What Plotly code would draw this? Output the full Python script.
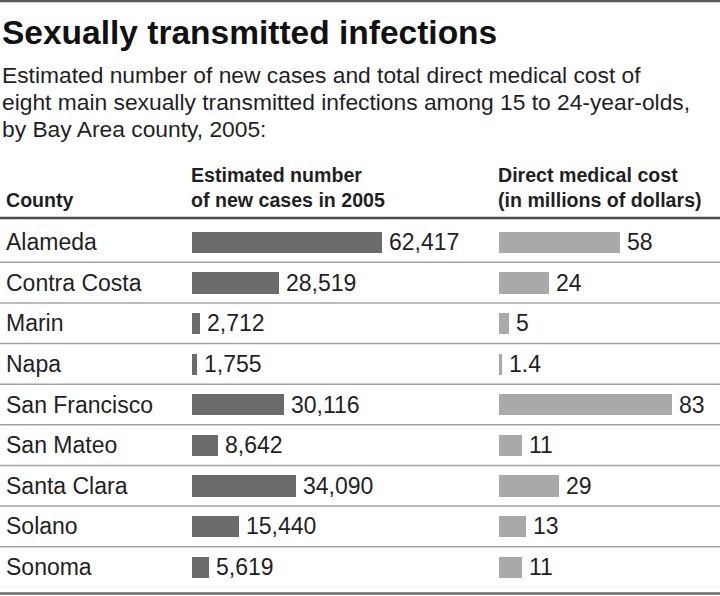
import plotly.graph_objects as go

# ---- data ----
counties = ["Alameda", "Contra Costa", "Marin", "Napa", "San Francisco",
            "San Mateo", "Santa Clara", "Solano", "Sonoma"]
new_cases = [62417, 28519, 2712, 1755, 30116, 8642, 34090, 15440, 5619]
medical_cost = [58, 24, 5, 1.4, 83, 11, 29, 13, 11]
cost_labels = ["58", "24", "5", "1.4", "83", "11", "29", "13", "11"]

title = "Sexually transmitted infections"
subtitle_lines = [
    "Estimated number of new cases and total direct medical cost of",
    "eight main sexually transmitted infections among 15 to 24-year-olds,",
    "by Bay Area county, 2005:",
]
header_county = "County"
header_cases = ["Estimated number", "of new cases in 2005"]
header_cost = ["Direct medical cost", "(in millions of dollars)"]

# ---- layout helpers ----
W, H = 720, 596
def px(x):
    return x / W
def py(y):
    return 1 - y / H

FONT = "Liberation Sans, Arial, Helvetica, sans-serif"
TXT = "#1f1f1f"
CASE_COLOR = "#6b6b6b"
COST_COLOR = "#a9a9a9"

fig = go.Figure()
fig.add_trace(go.Bar(
    y=counties, x=new_cases, orientation="h", xaxis="x", yaxis="y",
    marker=dict(color=CASE_COLOR, line=dict(width=0)), width=0.52,
    hoverinfo="skip", showlegend=False))
fig.add_trace(go.Bar(
    y=counties, x=medical_cost, orientation="h", xaxis="x2", yaxis="y",
    marker=dict(color=COST_COLOR, line=dict(width=0)), width=0.52,
    hoverinfo="skip", showlegend=False))

cases_per_px = 62417 / 190.0
cost_per_px = 1 / 2.085
x1_left, x1_right = 192, 470
x2_left, x2_right = 499, 720

annotations = []
# title
annotations.append(dict(text=title, x=px(0), y=py(32.5), xref="paper", yref="paper",
                        xanchor="left", yanchor="middle", showarrow=False,
                        font=dict(family=FONT, size=33.5, color="#111111", weight="bold")))
# subtitle
for line, yc in zip(subtitle_lines, [75, 102, 129]):
    annotations.append(dict(text=line, x=px(0), y=py(yc), xref="paper", yref="paper",
                            xanchor="left", yanchor="middle", showarrow=False,
                            font=dict(family=FONT, size=22.8, color=TXT)))
# headers
hdr_font = dict(family=FONT, size=19.6, color=TXT, weight="bold")
annotations.append(dict(text=header_county, x=px(4), y=py(199.5), xref="paper", yref="paper",
                        xanchor="left", yanchor="middle", showarrow=False, font=hdr_font))
for line, yc in zip(header_cases, [175, 199.5]):
    annotations.append(dict(text=line, x=px(189), y=py(yc), xref="paper", yref="paper",
                            xanchor="left", yanchor="middle", showarrow=False, font=hdr_font))
for line, yc in zip(header_cost, [175, 199.5]):
    annotations.append(dict(text=line, x=px(496), y=py(yc), xref="paper", yref="paper",
                            xanchor="left", yanchor="middle", showarrow=False, font=hdr_font))
# row labels and value labels
row_font = dict(family=FONT, size=23, color=TXT)
for c, v, cv, cl in zip(counties, new_cases, medical_cost, cost_labels):
    annotations.append(dict(text=c, x=px(4), y=c, xref="paper", yref="y",
                            xanchor="left", yanchor="middle", showarrow=False, font=row_font))
    annotations.append(dict(text=f"{v:,}", x=v, y=c, xref="x", yref="y", xshift=5,
                            xanchor="left", yanchor="middle", showarrow=False, font=row_font))
    annotations.append(dict(text=cl, x=cv, y=c, xref="x2", yref="y", xshift=5,
                            xanchor="left", yanchor="middle", showarrow=False, font=row_font))

shapes = []
# top border
shapes.append(dict(type="line", xref="paper", yref="paper", x0=0, x1=1, y0=py(1), y1=py(1),
                   line=dict(color="#5a5a5a", width=2.5)))
# header rule
shapes.append(dict(type="line", xref="paper", yref="paper", x0=0, x1=1, y0=py(218), y1=py(218),
                   line=dict(color="#4a4a4a", width=2.5)))
# row separators
for i in range(len(counties) - 1):
    shapes.append(dict(type="line", xref="paper", yref="y", x0=0, x1=1, y0=i + 0.5, y1=i + 0.5,
                       line=dict(color="#a3a3a3", width=1.6)))
shapes.append(dict(type="line", xref="paper", yref="y", x0=0, x1=1,
                   y0=len(counties) - 0.5, y1=len(counties) - 0.5,
                   line=dict(color="#d0d0d0", width=1)))
# bottom border
shapes.append(dict(type="line", xref="paper", yref="paper", x0=0, x1=1, y0=py(593.5), y1=py(593.5),
                   line=dict(color="#6a6a6a", width=2.5)))

fig.update_layout(
    width=W, height=H, margin=dict(l=0, r=0, t=0, b=0),
    paper_bgcolor="white", plot_bgcolor="rgba(0,0,0,0)",
    bargap=0, barmode="overlay",
    xaxis=dict(domain=[px(x1_left), px(x1_right)],
               range=[0, (x1_right - x1_left) * cases_per_px],
               visible=False, fixedrange=True),
    xaxis2=dict(domain=[px(x2_left), px(x2_right)],
                range=[0, (x2_right - x2_left) * cost_per_px],
                visible=False, fixedrange=True, anchor="y"),
    yaxis=dict(domain=[py(587.3), py(221.7)], type="category",
               categoryorder="array", categoryarray=counties,
               range=[len(counties) - 0.5, -0.5], visible=False, fixedrange=True),
    annotations=annotations, shapes=shapes,
)

fig.write_html("out.html", config={"displayModeBar": False},
               post_script="document.body.style.margin='0';document.body.style.overflow='hidden';")
